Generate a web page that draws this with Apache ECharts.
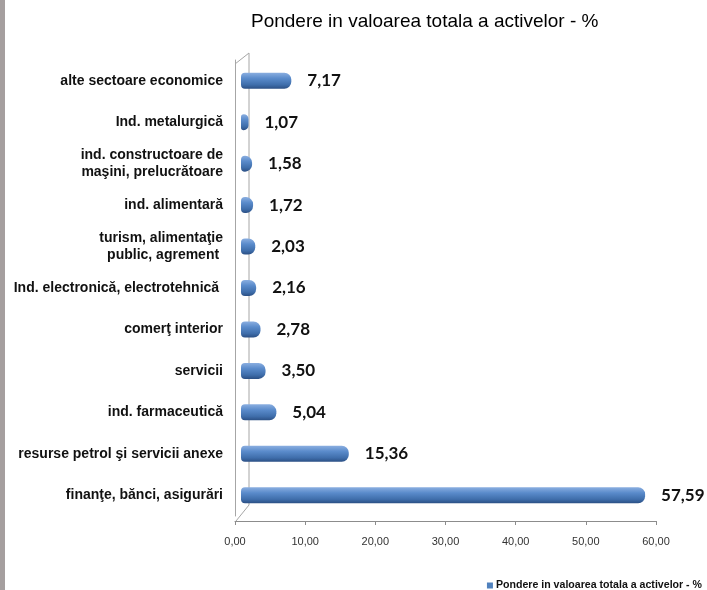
<!DOCTYPE html>
<html>
<head>
<meta charset="utf-8">
<script src="https://cdn.jsdelivr.net/npm/echarts@6/dist/echarts.min.js"></script>
<style>
    html, body { margin: 0; padding: 0; background: #fff; }
    #main { width: 707px; height: 590px; }
</style>
</head>
<body>
<div id="main"></div>
<script>
    // categorii, de sus in jos
    let categories = [
        'alte sectoare economice',
        'Ind. metalurgică',
        'ind. constructoare de\nmaşini, prelucrătoare',
        'ind. alimentară',
        'turism, alimentaţie\npublic, agrement ',
        'Ind. electronică, electrotehnică ',
        'comerţ interior',
        'servicii',
        'ind. farmaceutică',
        'resurse petrol şi servicii anexe',
        'finanţe, bănci, asigurări'
    ];
    // valori (%)
    let values = [7.17, 1.07, 1.58, 1.72, 2.03, 2.16, 2.78, 3.50, 5.04, 15.36, 57.59];
    let seriesName = 'Pondere in valoarea totala a activelor - %';
    let axisMax = 60;
    let axisStep = 10;

    let myChart = echarts.init(document.getElementById('main'));

    // pozitia zonei de desen
    let gLeft = 235, gRight = 51, gTop = 60, gBottom = 74;
    let H = 590;
    let wallColor = '#a6a6a6';

    let fmt = v => v.toFixed(2).replace('.', ',');

    //culoare bara (cilindru)
    let barColor = new echarts.graphic.LinearGradient(0, 0, 0, 1, [
        {offset: 0, color: '#8aaee0'},
        {offset: 0.35, color: '#5a8bcb'},
        {offset: 0.75, color: '#3f6eab'},
        {offset: 1, color: '#2b4f84'}
    ]);

    let option = {
        backgroundColor: '#fff',
        animation: false,
        title: {
            text: 'Pondere in valoarea totala a activelor - %',
            left: 246,
            top: 7,
            textStyle: {
                fontFamily: 'Liberation Sans',
                fontSize: 19,
                fontWeight: 'normal',
                color: '#000'
            }
        },
        legend: {
            right: 0,
            top: 575,
            icon: 'rect',
            itemWidth: 6,
            itemHeight: 6,
            itemGap: 3,
            textStyle: {
                fontFamily: 'Liberation Sans',
                fontSize: 10.6,
                fontWeight: 'bold',
                color: '#111',
                padding: [0, 0, 0, -2]
            },
            data: [{name: seriesName, itemStyle: {color: '#4f81bd'}}]
        },
        grid: [
            //axe vizibile
            {left: gLeft, right: gRight, top: gTop, bottom: gBottom},
            //barele (usor deplasate, efect 3D)
            {left: gLeft + 6, right: gRight - 6, top: gTop, bottom: gBottom}
        ],
        xAxis: [{
            gridIndex: 0,
            type: 'value',
            min: 0,
            max: axisMax,
            interval: axisStep,
            offset: 5,
            splitLine: {show: false},
            axisLine: {show: true, lineStyle: {color: '#8c8c8c'}},
            axisTick: {show: true, length: 4, lineStyle: {color: '#8c8c8c'}},
            axisLabel: {
                margin: 15,
                fontFamily: 'Liberation Sans',
                fontSize: 11,
                color: '#333',
                formatter: v => fmt(v)
            }
        }, {
            gridIndex: 1,
            type: 'value',
            min: 0,
            max: axisMax,
            show: false
        }],
        yAxis: [{
            gridIndex: 0,
            type: 'category',
            inverse: true,
            data: categories,
            axisLine: {show: true, lineStyle: {color: wallColor}},
            axisTick: {show: false},
            axisLabel: {
                margin: 12,
                fontFamily: 'Liberation Sans',
                fontSize: 14,
                fontWeight: 'bold',
                color: '#111',
                lineHeight: 17
            }
        }, {
            gridIndex: 1,
            type: 'category',
            inverse: true,
            data: categories,
            show: false
        }],
        series: [{
            name: seriesName,
            type: 'bar',
            xAxisIndex: 1,
            yAxisIndex: 1,
            data: values,
            barWidth: 16,
            itemStyle: {
                color: barColor,
                borderRadius: [4, 7, 7, 4]
            },
            label: {
                show: true,
                position: 'right',
                distance: 16,
                fontFamily: 'Lato',
                fontSize: 17,
                fontWeight: 'bold',
                color: '#111',
                formatter: p => fmt(p.value)
            }
        }],
        graphic: [
            //bara gri din stanga
            {type: 'rect', shape: {x: 0, y: 0, width: 5, height: H}, style: {fill: '#a59f9f'}, silent: true},
            //perete 3D
            {
                type: 'polyline',
                shape: {points: [[gLeft, gTop + 4], [gLeft + 14, gTop - 7], [gLeft + 14, H - gBottom - 11], [gLeft + 1, H - gBottom + 5]]},
                style: {stroke: wallColor, fill: null, lineWidth: 1},
                silent: true
            }
        ]
    };

    myChart.setOption(option);
</script>
</body>
</html>
